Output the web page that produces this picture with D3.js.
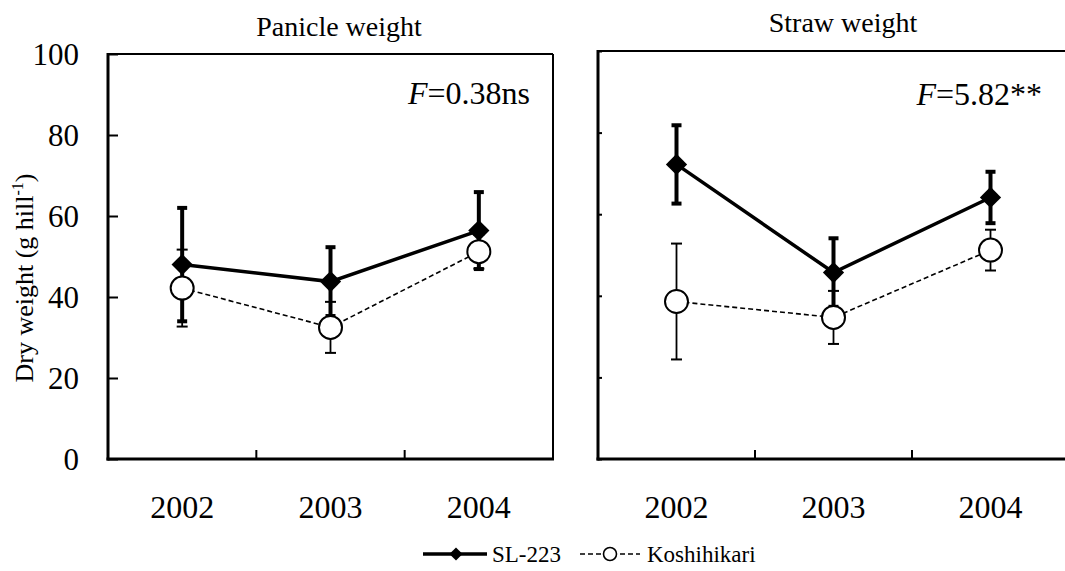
<!DOCTYPE html>
<html>
<head>
<meta charset="utf-8">
<script src="https://cdn.jsdelivr.net/npm/d3@7/dist/d3.min.js"></script>
<style>
  html, body { margin: 0; padding: 0; background: #fff; }
  svg { display: block; }
</style>
</head>
<body>
<svg id="chart" width="1065" height="571"></svg>
<script>
// ---------- data ----------
const years = ["2002", "2003", "2004"];
const yTicks = [0, 20, 40, 60, 80, 100];
const seriesNames = ["SL-223", "Koshihikari"];

const panicleSL = [48.0, 43.8, 56.4];
const panicleSLsd = [14.0, 8.5, 9.5];
const panicleKo = [42.2, 32.5, 51.2];
const panicleKoSd = [9.5, 6.3, 4.2];

const strawSL = [72.2, 45.7, 64.1];
const strawSLsd = [9.6, 8.4, 6.3];
const strawKo = [38.6, 34.7, 51.2];
const strawKoSd = [14.2, 6.5, 5.0];

const panelTitles = ["Panicle weight", "Straw weight"];
const fLabels = [{ f: "F", rest: "=0.38ns" }, { f: "F", rest: "=5.82**" }];

const FONT = '"Liberation Serif", "Times New Roman", Times, serif';

// ---------- layout ----------
const svg = d3.select("#chart");
const panels = [
  { x0: 108, x1: 553, yTop: 54, yBot: 459, title: panelTitles[0], titleX: 339, titleY: 36,
    F: fLabels[0], Fx: 530, Fy: 104, labels: true, tickLen: 10,
    sl: panicleSL, slsd: panicleSLsd, ko: panicleKo, kosd: panicleKoSd, rightBorder: true },
  { x0: 598, x1: 1069, yTop: 51, yBot: 459, title: panelTitles[1], titleX: 843, titleY: 32,
    F: fLabels[1], Fx: 1042, Fy: 105, labels: false, tickLen: 4,
    sl: strawSL, slsd: strawSLsd, ko: strawKo, kosd: strawKoSd, rightBorder: true }
];

panels.forEach(p => {
  const g = svg.append("g");
  const x = d3.scaleBand().domain(years).range([p.x0, p.x1]).paddingInner(0).paddingOuter(0);
  const y = d3.scaleLinear().domain([0, 100]).range([p.yBot, p.yTop]);
  const cx = d => x(d) + x.bandwidth() / 2;

  // frame (top and right thinner)
  g.append("line").attr("x1", x.range()[0]).attr("x2", x.range()[1])
    .attr("y1", y(100)).attr("y2", y(100)).attr("stroke", "#000").attr("stroke-width", 2);
  if (p.rightBorder) {
    g.append("line").attr("x1", x.range()[1]).attr("x2", x.range()[1])
      .attr("y1", y(100)).attr("y2", y(0)).attr("stroke", "#000").attr("stroke-width", 2);
  }

  // y axis
  const yAxis = d3.axisLeft(y).tickValues(yTicks).tickSize(-p.tickLen).tickPadding(29)
    .tickFormat(p.labels ? d3.format("d") : () => "");
  const ya = g.append("g").attr("transform", `translate(${p.x0},0)`).call(yAxis);
  ya.select(".domain").remove();
  ya.selectAll(".tick line").attr("stroke", "#000").attr("stroke-width", 2);
  ya.selectAll(".tick text").attr("font-size", 31).attr("fill", "#000").attr("dy", "0.34em");
  g.append("line").attr("x1", p.x0).attr("x2", p.x0).attr("y1", y(100) - 1).attr("y2", y(0) + 1.5)
    .attr("stroke", "#000").attr("stroke-width", 3);

  // x axis: category labels + internal boundary ticks
  g.selectAll(".xb").data(years.slice(1)).enter().append("line")
    .attr("x1", d => x(d)).attr("x2", d => x(d))
    .attr("y1", y(0)).attr("y2", y(0) - 9).attr("stroke", "#000").attr("stroke-width", 2);
  g.append("line").attr("x1", p.x0 - 1.5).attr("x2", x.range()[1] + 1).attr("y1", y(0)).attr("y2", y(0))
    .attr("stroke", "#000").attr("stroke-width", 3);
  g.selectAll(".xl").data(years).enter().append("text")
    .attr("x", d => cx(d)).attr("y", y(0) + 59).attr("text-anchor", "middle")
    .attr("font-size", 32).text(d => d);

  // title
  g.append("text").attr("x", p.titleX).attr("y", p.titleY).attr("text-anchor", "middle")
    .attr("font-size", 28).text(p.title);

  // F label
  const ft = g.append("text").attr("x", p.Fx).attr("y", p.Fy).attr("text-anchor", "end").attr("font-size", 32);
  ft.append("tspan").attr("font-style", "italic").text(p.F.f);
  ft.append("tspan").text(p.F.rest);

  const slData = years.map((d, i) => ({ year: d, v: p.sl[i], sd: p.slsd[i] }));
  const koData = years.map((d, i) => ({ year: d, v: p.ko[i], sd: p.kosd[i] }));

  const line = d3.line().x(d => cx(d.year)).y(d => y(d.v));

  // error bars
  function errBars(data, w, capW, capT) {
    const eb = g.append("g");
    eb.selectAll(".st").data(data).enter().append("line")
      .attr("x1", d => cx(d.year)).attr("x2", d => cx(d.year))
      .attr("y1", d => y(d.v - d.sd)).attr("y2", d => y(d.v + d.sd))
      .attr("stroke", "#000").attr("stroke-width", w);
    ["lo", "hi"].forEach(k => {
      eb.selectAll(".c" + k).data(data).enter().append("line")
        .attr("x1", d => cx(d.year) - capW / 2).attr("x2", d => cx(d.year) + capW / 2)
        .attr("y1", d => y(k === "lo" ? d.v - d.sd : d.v + d.sd))
        .attr("y2", d => y(k === "lo" ? d.v - d.sd : d.v + d.sd))
        .attr("stroke", "#000").attr("stroke-width", capT);
    });
  }
  errBars(slData, 4, 10, 4);
  errBars(koData, 1.8, 11, 2);

  g.append("path").datum(slData).attr("d", line).attr("fill", "none")
    .attr("stroke", "#000").attr("stroke-width", 3.5);
  g.append("path").datum(koData).attr("d", line).attr("fill", "none")
    .attr("stroke", "#000").attr("stroke-width", 1.6).attr("stroke-dasharray", "5,3");

  const diamond = d3.symbol().type(d3.symbolDiamond2).size(288);
  g.selectAll(".dm").data(slData).enter().append("path")
    .attr("d", diamond).attr("transform", d => `translate(${cx(d.year)},${y(d.v)})`)
    .attr("fill", "#000");
  g.selectAll(".ci").data(koData).enter().append("circle")
    .attr("cx", d => cx(d.year)).attr("cy", d => y(d.v)).attr("r", 11.5)
    .attr("fill", "#fff").attr("stroke", "#000").attr("stroke-width", 2);
});

// y axis title
const yl = svg.append("text").attr("transform", "translate(33,278) rotate(-90)")
  .attr("text-anchor", "middle").attr("font-size", 26);
yl.append("tspan").text("Dry weight (g hill");
yl.append("tspan").attr("font-size", 16).attr("dy", -10).text("-1");
yl.append("tspan").attr("dy", 10).text(")");

// legend
const lg = svg.append("g");
const ly = 554;
lg.append("line").attr("x1", 423).attr("x2", 487).attr("y1", ly).attr("y2", ly)
  .attr("stroke", "#000").attr("stroke-width", 3.5);
lg.append("path").attr("d", d3.symbol().type(d3.symbolDiamond2).size(110))
  .attr("transform", `translate(456,${ly})`).attr("fill", "#000");
lg.append("text").attr("x", 492).attr("y", ly + 8).attr("font-size", 23).text(seriesNames[0]);
lg.append("line").attr("x1", 580).attr("x2", 640).attr("y1", ly).attr("y2", ly)
  .attr("stroke", "#000").attr("stroke-width", 1.6).attr("stroke-dasharray", "5,3");
lg.append("circle").attr("cx", 610).attr("cy", ly).attr("r", 6.5)
  .attr("fill", "#fff").attr("stroke", "#000").attr("stroke-width", 1.6);
lg.append("text").attr("x", 647).attr("y", ly + 8).attr("font-size", 23).text(seriesNames[1]);

// font for every text
svg.selectAll("text").style("font-family", FONT).attr("fill", "#000");
</script>
</body>
</html>
